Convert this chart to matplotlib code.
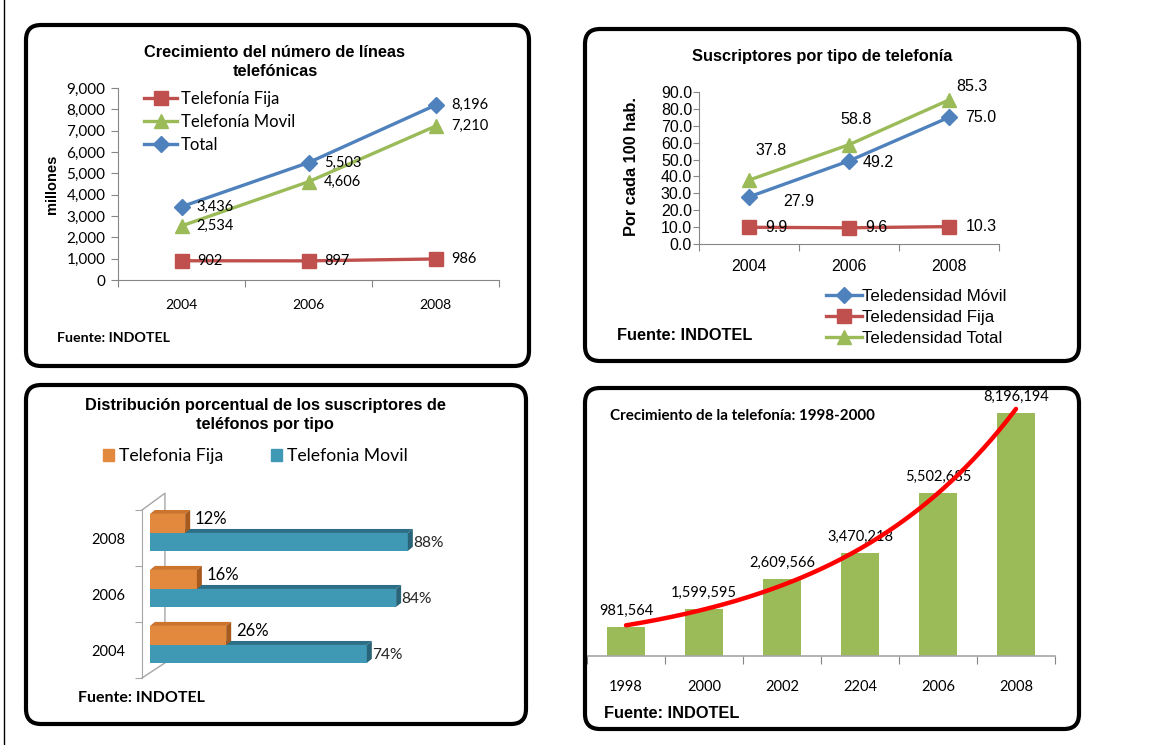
import numpy as np
import matplotlib
matplotlib.use('Agg')
import matplotlib.pyplot as plt
from matplotlib.patches import FancyBboxPatch, Polygon, Patch
from matplotlib.lines import Line2D
from matplotlib.transforms import IdentityTransform

W, H = 1150, 745

# chart 1: lineas telefonicas (millones)
years_a = ['2004', '2006', '2008']
lineas_fija = [902, 897, 986]
lineas_movil = [2534, 4606, 7210]
lineas_total = [3436, 5503, 8196]

# chart 2: teledensidad por cada 100 hab.
tele_movil = [27.9, 49.2, 75.0]
tele_fija = [9.9, 9.6, 10.3]
tele_total = [37.8, 58.8, 85.3]

# chart 3: distribucion porcentual (2004, 2006, 2008)
pct_fija = [26, 16, 12]
pct_movil = [74, 84, 88]

# chart 4: crecimiento de la telefonia
years_b = ['1998', '2000', '2002', '2204', '2006', '2008']
suscriptores = [981564, 1599595, 2609566, 3470218, 5502685, 8196194]

BLUE = '#4F81BD'
RED = '#C0504D'
GREEN = '#9BBB59'
CAL = ['Lato', 'DejaVu Sans']
ARIAL = ['Liberation Sans', 'DejaVu Sans']
GREY = '#868686'

fig = plt.figure(figsize=(W / 100, H / 100), dpi=100)


def axes_px(l, t, r, b):
    return fig.add_axes([l / W, 1 - b / H, (r - l) / W, (b - t) / H])


def ftxt(x, y, s, **kw):
    return fig.text(x / W, 1 - y / H, s, **kw)


def cat_ticks(ax, n, labels, family, size, pad, length=5):
    # ticks on category boundaries, labels centred in each category
    ax.set_xticks(np.arange(n + 1) - 0.5)
    ax.set_xticklabels([])
    ax.set_xticks(np.arange(n), minor=True)
    ax.set_xticklabels(labels, minor=True, family=family, fontsize=size)
    ax.tick_params(axis='x', which='major', direction='out', length=length, color=GREY)
    ax.tick_params(axis='x', which='minor', length=0, pad=pad)


def style_y(ax, family, size):
    for lbl in ax.get_yticklabels():
        lbl.set_family(family)
        lbl.set_fontsize(size)


# ---------------- boxes ----------------
for l, t, r, b in [(26, 25, 529, 366), (585, 29, 1079, 361),
                   (26, 385, 526, 724), (585, 388, 1079, 729)]:
    fig.add_artist(FancyBboxPatch((l, H - b), r - l, b - t,
                                  boxstyle='round,pad=0,rounding_size=15',
                                  lw=3, ec='black', fc='none',
                                  transform=IdentityTransform()))
fig.add_artist(Line2D([3.5, 3.5], [0, H], lw=1, color='black',
                      transform=IdentityTransform()))

# ---------------- chart 1 ----------------
ax1 = axes_px(118, 88, 499, 280)
x = np.arange(3)
ax1.plot(x, lineas_fija, color=RED, lw=2.4, marker='s', ms=10, label='Telefonía Fija')
ax1.plot(x, lineas_movil, color=GREEN, lw=2.4, marker='^', ms=10, label='Telefonía Movil')
ax1.plot(x, lineas_total, color=BLUE, lw=2.4, marker='D', ms=8, label='Total')
ax1.set_xlim(-0.5, 2.5)
ax1.set_ylim(0, 9000)
ax1.set_yticks(range(0, 9001, 1000))
ax1.set_yticklabels([f'{v:,}' for v in range(0, 9001, 1000)])
style_y(ax1, CAL, 11)
ax1.tick_params(axis='y', direction='out', length=5, color=GREY, pad=4)
cat_ticks(ax1, 3, years_a, CAL, 10, 14)
for s in ['top', 'right']:
    ax1.spines[s].set_visible(False)
for s in ['left', 'bottom']:
    ax1.spines[s].set_color(GREY)
for series in [lineas_fija, lineas_movil, lineas_total]:
    for i, v in enumerate(series):
        ax1.annotate(f'{v:,}', (i, v), xytext=(11, 0), textcoords='offset points',
                     ha='left', va='center', family=CAL, fontsize=10.5)
fig.legend(loc='upper left', bbox_to_anchor=(144 / W, 1 - 91 / H), frameon=False,
           prop={'family': CAL, 'size': 12}, handlelength=2.0, handletextpad=0.2,
           labelspacing=0.42, borderpad=0, borderaxespad=0)
ftxt(275, 62, 'Crecimiento del número de líneas\ntelefónicas', ha='center', va='center',
     family=ARIAL, fontweight='bold', fontsize=11.8, linespacing=1.4)
ftxt(52, 184, 'millones', rotation=90, ha='center', va='center',
     family=ARIAL, fontweight='bold', fontsize=10.5)
ftxt(57, 338, 'Fuente: INDOTEL', ha='left', va='center', family=CAL,
     fontweight='bold', fontsize=10.3)

# ---------------- chart 2 ----------------
ax2 = axes_px(699, 92, 999, 244)
ax2.plot(x, tele_movil, color=BLUE, lw=2.4, marker='D', ms=8, label='Teledensidad Móvil')
ax2.plot(x, tele_fija, color=RED, lw=2.4, marker='s', ms=10, label='Teledensidad Fija')
ax2.plot(x, tele_total, color=GREEN, lw=2.4, marker='^', ms=10, label='Teledensidad Total')
ax2.set_xlim(-0.5, 2.5)
ax2.set_ylim(0, 90)
ax2.set_yticks(np.arange(0, 91, 10))
ax2.set_yticklabels([f'{v:.1f}' for v in np.arange(0, 91, 10)])
style_y(ax2, ARIAL, 11.5)
ax2.tick_params(axis='y', direction='out', length=4, color=GREY, pad=1)
cat_ticks(ax2, 3, years_a, ARIAL, 11.5, 11)
for s in ['top', 'right']:
    ax2.spines[s].set_visible(False)
for s in ['left', 'bottom']:
    ax2.spines[s].set_color(GREY)
lab_off = {
    'total': [(16, 21.5), (5, 18), (16.5, 9.5)],
    'movil': [(36, -3), (21, -1), (23, 0)],
    'fija': [(19.5, 0), (19.5, 0), (23, 0)],
}
for key, series in [('total', tele_total), ('movil', tele_movil), ('fija', tele_fija)]:
    for i, v in enumerate(series):
        ax2.annotate(f'{v:.1f}', (i, v), xytext=lab_off[key][i], textcoords='offset points',
                     ha='center', va='center', family=ARIAL, fontsize=11.5)
fig.legend(handles=ax2.get_lines(), loc='upper left',
           bbox_to_anchor=(826 / W, 1 - 289 / H), frameon=False,
           prop={'family': ARIAL, 'size': 12.2}, handlelength=2.1, handletextpad=0.05,
           labelspacing=0.34, borderpad=0, borderaxespad=0)
ftxt(822, 57, 'Suscriptores por tipo de telefonía', ha='center', va='center',
     family=ARIAL, fontweight='bold', fontsize=11.8)
ftxt(632, 167, 'Por cada 100 hab.', rotation=90, ha='center', va='center',
     family=ARIAL, fontweight='bold', fontsize=11.8)
ftxt(617, 336, 'Fuente: INDOTEL', ha='left', va='center', family=ARIAL,
     fontweight='bold', fontsize=11.8)

# ---------------- chart 3 ----------------
PX3 = 2.93  # pixels per percent
ax3 = axes_px(142, 510, 142 + 102.73 * PX3, 678)
ax3.set_xlim(-2.73, 100)
ax3.set_ylim(-0.5, 2.5)
dx, dy = 5 / PX3, 4 / 56


def bar3d(ax, y, w, h, front, top, side, z):
    ax.barh(y, w, height=h, left=0, color=front, zorder=z)
    ax.add_patch(Polygon([(0, y + h / 2), (dx, y + h / 2 + dy), (w + dx, y + h / 2 + dy),
                          (w, y + h / 2)], closed=True, fc=top, ec='none', zorder=z))
    ax.add_patch(Polygon([(w, y - h / 2), (w + dx, y - h / 2 + dy), (w + dx, y + h / 2 + dy),
                          (w, y + h / 2)], closed=True, fc=side, ec='none', zorder=z))


ax3.plot([-2.73, 5.1, 5.1, -2.73], [2.5, 2.8, -0.23, -0.5], color='#A6A6A6', lw=1,
         clip_on=False, zorder=1)
for i in range(3):
    bar3d(ax3, i - 0.07, pct_movil[i], 0.32, '#3F98B4', '#2C6F87', '#2A6478', 3)
    bar3d(ax3, i + 0.26, pct_fija[i], 0.34, '#E3893E', '#CC732C', '#A65A1E', 4)
    ax3.annotate(f'{pct_fija[i]}%', (pct_fija[i], i + 0.26), xytext=(7, 3),
                 textcoords='offset points', ha='left', va='center', family=CAL,
                 fontsize=12, zorder=6)
    ax3.annotate(f'{pct_movil[i]}%', (pct_movil[i], i - 0.07), xytext=(4, -1),
                 textcoords='offset points', ha='left', va='center', family=CAL,
                 fontsize=11.2, color='#262626', zorder=6)
ax3.set_yticks(np.arange(4) - 0.5)
ax3.set_yticklabels([])
ax3.set_yticks(np.arange(3), minor=True)
ax3.set_yticklabels(years_a, minor=True, family=CAL, fontsize=10.5)
ax3.tick_params(axis='y', which='major', direction='out', length=5, color='#A6A6A6')
ax3.tick_params(axis='y', which='minor', length=0, pad=12)
ax3.set_xticks([])
for s in ['top', 'right', 'bottom']:
    ax3.spines[s].set_visible(False)
ax3.spines['left'].set_color('#A6A6A6')
fig.legend(handles=[Patch(color='#E3893E', label='Telefonia Fija'),
                    Patch(color='#3F98B4', label='Telefonia Movil')],
           loc='center left', bbox_to_anchor=(103 / W, 1 - 456 / H), ncol=2,
           frameon=False, prop={'family': CAL, 'size': 12.7}, handlelength=0.62,
           handleheight=0.62, handletextpad=0.3, columnspacing=2.7,
           borderpad=0, borderaxespad=0)
ftxt(265, 415, 'Distribución porcentual de los suscriptores de\nteléfonos por tipo',
     ha='center', va='center', family=ARIAL, fontweight='bold', fontsize=11.8,
     linespacing=1.3)
ftxt(78, 698, 'Fuente: INDOTEL', ha='left', va='center', family=CAL,
     fontweight='bold', fontsize=11.5)

# ---------------- chart 4 ----------------
ax4 = axes_px(587, 656 - 9 * 29.65, 1055, 656)
xb = np.arange(len(suscriptores))
ax4.bar(xb, suscriptores, width=0.49, color=GREEN, zorder=2)
ax4.set_xlim(-0.5, 5.5)
ax4.set_ylim(0, 9e6)
ax4.set_yticks([])
cat_ticks(ax4, 6, years_b, CAL, 10.5, 17, length=6)
for s in ['top', 'right', 'left']:
    ax4.spines[s].set_visible(False)
ax4.spines['bottom'].set_color('#A6A6A6')
ax4.spines['bottom'].set_linewidth(1.2)
for i, v in enumerate(suscriptores):
    ax4.annotate(f'{v:,}', (i, v), xytext=(0, 11.5), textcoords='offset points',
                 ha='center', va='center', family=CAL, fontsize=10.5, zorder=3)
# exponential trend line fitted to the data
m, c = np.polyfit(xb, np.log(suscriptores), 1)
xs = np.linspace(0, 5, 200)
ax4.plot(xs, np.exp(c + m * xs), color='red', lw=3.2, solid_capstyle='round',
         zorder=5, clip_on=False)
ftxt(610, 416, 'Crecimiento de la telefonía: 1998-2000', ha='left', va='center',
     family=CAL, fontweight='bold', fontsize=10.9)
ftxt(604, 714, 'Fuente: INDOTEL', ha='left', va='center', family=ARIAL,
     fontweight='bold', fontsize=11.8)

fig.savefig('out.png', dpi=100)
